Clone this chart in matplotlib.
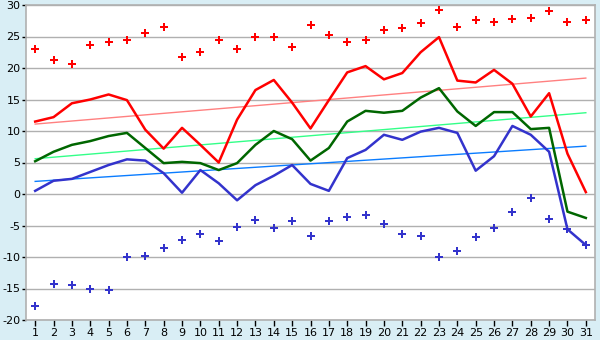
import matplotlib
matplotlib.use("Agg")
import matplotlib.pyplot as plt
import numpy as np

days = list(range(1, 32))

# daily maximum / mean / minimum
t_max = [11.5, 12.2, 14.4, 15.0, 15.8, 14.9, 10.2, 7.2, 10.5, 7.8,
         5.0, 11.8, 16.5, 18.1, 14.5, 10.4, 14.9, 19.3, 20.3, 18.2,
         19.2, 22.5, 24.9, 18.0, 17.7, 19.7, 17.5, 12.3, 16.0, 6.4, 0.3]
t_mean = [5.2, 6.7, 7.8, 8.4, 9.2, 9.7, 7.3, 4.9, 5.1, 4.9,
          3.8, 4.9, 7.8, 10.0, 8.7, 5.3, 7.3, 11.5, 13.2, 12.9,
          13.2, 15.3, 16.8, 13.1, 10.8, 13.0, 13.0, 10.3, 10.5, -2.8, -3.8]
t_min = [0.5, 2.1, 2.4, 3.5, 4.6, 5.5, 5.3, 3.3, 0.2, 3.8,
         1.7, -1.0, 1.4, 2.9, 4.6, 1.6, 0.5, 5.7, 7.0, 9.4,
         8.6, 9.9, 10.5, 9.7, 3.7, 6.0, 10.8, 9.4, 6.7, -5.6, -8.1]

# absolute extremes
abs_max = [23.0, 21.2, 20.6, 23.6, 24.1, 24.4, 25.5, 26.5, 21.7, 22.5,
           24.4, 23.0, 24.9, 25.0, 23.3, 26.8, 25.2, 24.2, 24.4, 26.0,
           26.3, 27.2, 29.2, 26.5, 27.6, 27.3, 27.7, 27.9, 29.0, 27.3, 27.6]
abs_min = [-17.8, -14.3, -14.5, -15.0, -15.3, -10.0, -9.8, -8.6, -7.3, -6.4,
           -7.5, -5.3, -4.2, -5.4, -4.3, -6.7, -4.3, -3.7, -3.4, -4.8,
           -6.4, -6.7, -10.0, -9.0, -6.9, -5.4, -2.9, -0.7, -4.0, -5.6, -8.1]

# trend lines (value on day 1, value on day 31)
trend_max = [11.1, 18.4]
trend_mean = [5.6, 12.9]
trend_min = [2.0, 7.6]

plt.rcParams["axes.unicode_minus"] = False

bg = "#d9eef5"
grid_col = "#b0b0b0"

fig = plt.figure(figsize=(6, 3.4), dpi=100, facecolor=bg)
ax = fig.add_axes([26 / 600, 20 / 340, 569 / 600, 315 / 340])
ax.set_facecolor("white")

x = np.array(days)
ends = [days[0], days[-1]]

ax.plot(ends, trend_max, color="#ff8080", linewidth=1.0, zorder=2)
ax.plot(ends, trend_mean, color="#33ff88", linewidth=1.0, zorder=2)
ax.plot(ends, trend_min, color="#0a7cff", linewidth=1.0, zorder=2)

ax.plot(x, t_max, color="#ff0000", linewidth=1.8, zorder=3)
ax.plot(x, t_mean, color="#006600", linewidth=1.8, zorder=3)
ax.plot(x, t_min, color="#3333cc", linewidth=1.8, zorder=3)

ax.plot(x, abs_max, linestyle="none", marker="P", markersize=5.5,
        color="#ff0000", markeredgewidth=0, zorder=4)
ax.plot(x, abs_min, linestyle="none", marker="P", markersize=5.5,
        color="#3333cc", markeredgewidth=0, zorder=4)

ax.set_xlim(0.5, 31.5)
ax.set_ylim(-20, 30)
ax.set_xticks(days)
ax.set_yticks(range(-20, 31, 5))
ax.yaxis.grid(True, color=grid_col, linewidth=1.0)
ax.set_axisbelow(True)

for s in ax.spines.values():
    s.set_color(grid_col)
    s.set_linewidth(1.2)

ax.tick_params(axis="both", labelsize=8, colors="black", length=4,
               width=1.0, direction="out", pad=2)
ax.tick_params(axis="y", length=3, pad=1)

fig.savefig("out.png", dpi=100, facecolor=bg)
